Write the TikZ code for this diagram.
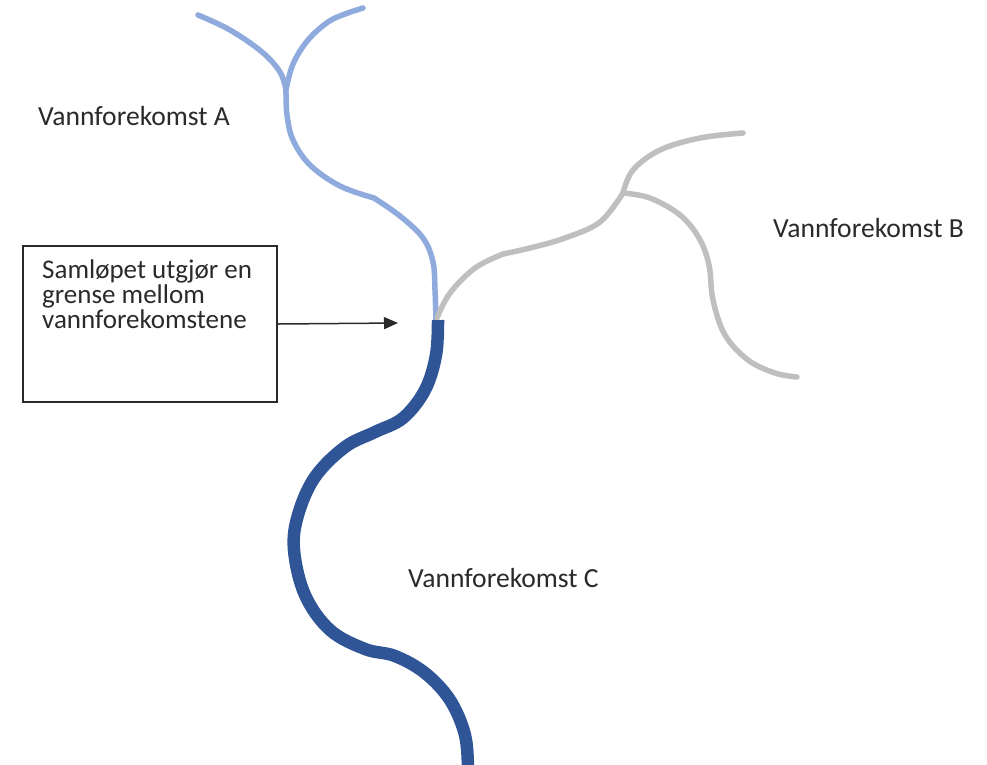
\documentclass[tikz,border=0pt]{standalone}
\usepackage{fontspec}
\setmainfont{Carlito}
\usetikzlibrary{arrows.meta}
\definecolor{riverA}{HTML}{8FAADC}
\definecolor{riverB}{HTML}{BFBFBF}
\definecolor{riverC}{HTML}{2F5597}
\definecolor{ink}{HTML}{2A2A2A}
\begin{document}
\begin{tikzpicture}[x=1pt,y=-1pt,
  lbl/.style={anchor=west,inner sep=0pt,text=ink,font=\fontsize{27.6}{25}\selectfont},
  rivA/.style={draw=riverA,line width=5.5pt,line cap=round,line join=round},
  rivB/.style={draw=riverB,line width=5.5pt,line cap=round,line join=round},
  rivC/.style={draw=riverC,line width=12.5pt,line join=round},
  boxst/.style={draw=ink,line width=1.3pt,minimum width=254pt,minimum height=156pt,inner sep=0pt}]
\useasboundingbox (0,0) rectangle (987,764);
% river A
\draw[rivA] plot[smooth,tension=0.6] coordinates {(198,15) (230,30) (262,52) (280,72) (286,90)};
\draw[rivA] plot[smooth,tension=0.6] coordinates {(363,8) (345,14) (328,22) (308,40) (293,64) (286,90)};
\draw[rivA] plot[smooth,tension=0.6] coordinates {(286,90) (287,115) (293,140) (310,165) (340,186) (374,198)};
\draw[rivA] plot[smooth,tension=0.6] coordinates {(374,198) (400,216) (423,238) (433,262) (435,290) (436,320)};
% river B
\draw[rivB] plot[smooth,tension=0.6] coordinates {(437,318) (450,293) (475,268) (503,254)};
\draw[rivB] plot[smooth,tension=0.6] coordinates {(503,254) (530,248) (565,238) (600,222) (623,193)};
\draw[rivB] plot[smooth,tension=0.6] coordinates {(623,193) (633,170) (660,150) (700,138) (743,133)};
\draw[rivB] plot[smooth,tension=0.6] coordinates {(623,193) (650,198) (680,215) (699,238) (709,265) (713,300) (725,335) (748,360) (775,373) (797,377)};
% river C
\draw[rivC] plot[smooth,tension=0.6] coordinates {(438,320) (436,355) (425,390) (403,418) (375,432) (345,447) (315,477) (298,515) (294,550) (305,595) (330,630) (365,649) (395,656) (425,673) (450,700) (465,735) (468,770)};
% labels
\node[lbl] (A) at (38,116) {Vannforekomst A};
\node[lbl] (B) at (773,228) {Vannforekomst B};
\node[lbl] (C) at (408,578) {Vannforekomst C};
% box
\node[boxst] (box) at (150,324) {};
\node[anchor=north west,inner sep=0pt,align=left,text=ink,font=\fontsize{27}{25}\selectfont] (boxtext) at (42,260) {Samløpet utgjør en\\grense mellom\\vannforekomstene};
\coordinate (tip) at (398,323);
\draw[ink,line width=1.5pt,-{Triangle[length=14pt,width=12pt]}] (box.east) -- (tip);
\end{tikzpicture}
\end{document}
